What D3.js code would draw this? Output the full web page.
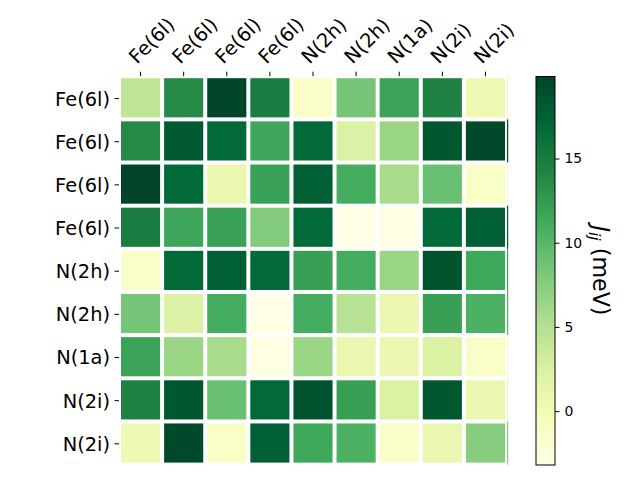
<!DOCTYPE html>
<html>
<head>
<meta charset="utf-8">
<script src="https://cdn.jsdelivr.net/npm/d3@7"></script>
<style>
  html, body { margin: 0; padding: 0; background: #fff; }
  svg { display: block; font-family: "DejaVu Sans", sans-serif; }
</style>
</head>
<body>
<svg id="chart" width="640" height="480"></svg>
<script>
// ---- data ----
const rowLabels = ["Fe(6l)", "Fe(6l)", "Fe(6l)", "Fe(6l)", "N(2h)", "N(2h)", "N(1a)", "N(2i)", "N(2i)"];
const colLabels = ["Fe(6l)", "Fe(6l)", "Fe(6l)", "Fe(6l)", "N(2h)", "N(2h)", "N(1a)", "N(2i)", "N(2i)"];
const row0 = [4.2, 13.7, 19.87, 14.9, -1.3, 8.5, 11.8, 14.4, 0.5];
const row1 = [13.7, 18.2, 16.8, 11.6, 16.8, 2.3, 6.5, 18.4, 19.5];
const row2 = [19.87, 16.8, 0.8, 11.9, 17.7, 11.0, 5.7, 9.1, -1.2];
const row3 = [14.9, 11.6, 11.9, 7.8, 16.8, -3.2, -3.0, 16.8, 17.7];
const row4 = [-1.3, 16.8, 17.7, 16.8, 12.2, 11.0, 6.5, 18.7, 11.4];
const row5 = [8.5, 2.3, 11.0, -3.2, 11.0, 4.7, 0.8, 12.1, 10.6];
const row6 = [11.8, 6.5, 5.7, -3.0, 6.5, 0.8, 0.7, 2.4, -1.3];
const row7 = [14.4, 18.4, 9.1, 16.8, 18.7, 12.1, 2.4, 18.4, 0.9];
const row8 = [0.5, 19.5, -1.2, 17.7, 11.4, 10.6, -1.3, 0.9, 7.4];
const matrix = [row0, row1, row2, row3, row4, row5, row6, row7, row8];
const cbarTicks = [0, 5, 10, 15];
const cbarLabel = "(meV)";

// ---- layout ----
const svg = d3.select("#chart");
const ax = {left: 119, right: 507, top: 76.2, bottom: 464.6};
const cb = {left: 536, right: 555, top: 76.5, bottom: 465};
const gap = 4;
const tickLen = 4.5;

// matplotlib YlGn
const ylgn = ["#ffffe5", "#f7fcb9", "#d9f0a3", "#addd8e", "#78c679", "#41ab5d", "#238443", "#006837", "#004529"];
const allVals = matrix.flat();
const [vmin, vmax] = d3.extent(allVals);
const color = d3.scaleLinear()
  .domain(ylgn.map((c, i) => vmin + (vmax - vmin) * i / (ylgn.length - 1)))
  .range(ylgn)
  .interpolate(d3.interpolateRgb);

const x = d3.scaleBand().domain(d3.range(colLabels.length)).range([ax.left, ax.right]).padding(0);
const y = d3.scaleBand().domain(d3.range(rowLabels.length)).range([ax.top, ax.bottom]).padding(0);

const cells = [];
matrix.forEach((row, i) => row.forEach((v, j) => cells.push({i, j, v})));

// edge sliver (imshow edge peeking past the grid)
svg.append("g").selectAll("rect")
  .data(matrix.map((row, i) => ({i, v: row[row.length - 1]})))
  .join("rect")
  .attr("x", ax.right)
  .attr("y", d => y(d.i))
  .attr("width", 1.2)
  .attr("height", y.bandwidth())
  .attr("fill", d => color(d.v));

svg.append("g").selectAll("rect")
  .data(cells)
  .join("rect")
  .attr("x", d => x(d.j) + gap / 2)
  .attr("y", d => y(d.i) + gap / 2)
  .attr("width", x.bandwidth() - gap)
  .attr("height", y.bandwidth() - gap)
  .attr("fill", d => color(d.v));

// top x ticks
const fs = 19.4;
const gx = svg.append("g");
colLabels.forEach((lab, j) => {
  const cx = x(j) + x.bandwidth() / 2;
  gx.append("line")
    .attr("x1", cx).attr("x2", cx)
    .attr("y1", ax.top).attr("y2", ax.top - tickLen)
    .attr("stroke", "#000").attr("stroke-width", 1);
  const bx = cx - 3.5, by = ax.top - tickLen - 7;
  gx.append("text")
    .attr("transform", `translate(${bx},${by}) rotate(-45)`)
    .attr("text-anchor", "start")
    .attr("font-size", fs)
    .attr("fill", "#000")
    .text(lab);
});

// left y ticks
const gy = svg.append("g");
rowLabels.forEach((lab, i) => {
  const cy = y(i) + y.bandwidth() / 2 + 0.8;
  gy.append("line")
    .attr("x1", ax.left).attr("x2", ax.left - tickLen)
    .attr("y1", cy).attr("y2", cy)
    .attr("stroke", "#000").attr("stroke-width", 1);
  gy.append("text")
    .attr("x", ax.left - tickLen - 4.5)
    .attr("y", cy)
    .attr("dy", "0.36em")
    .attr("text-anchor", "end")
    .attr("font-size", fs)
    .attr("fill", "#000")
    .text(lab);
});

// colorbar
const defs = svg.append("defs");
const grad = defs.append("linearGradient")
  .attr("id", "cbgrad")
  .attr("x1", "0").attr("y1", "1").attr("x2", "0").attr("y2", "0");
d3.range(0, 1.0001, 0.02).forEach(t => {
  grad.append("stop")
    .attr("offset", t)
    .attr("stop-color", color(vmin + t * (vmax - vmin)));
});
svg.append("rect")
  .attr("x", cb.left).attr("y", cb.top)
  .attr("width", cb.right - cb.left).attr("height", cb.bottom - cb.top)
  .attr("fill", "url(#cbgrad)")
  .attr("stroke", "#000").attr("stroke-width", 1);

const cy = d3.scaleLinear().domain([vmin, vmax]).range([cb.bottom, cb.top]);
const cbAxis = d3.axisRight(cy).tickValues(cbarTicks).tickSize(4.5).tickPadding(5).tickFormat(d3.format("d"));
const gcb = svg.append("g")
  .attr("transform", `translate(${cb.right},0)`)
  .call(cbAxis);
gcb.select(".domain").remove();
gcb.selectAll("text").attr("font-size", 13.9).attr("font-family", "DejaVu Sans, sans-serif").attr("fill", "#000");
gcb.selectAll("line").attr("stroke", "#000");

// colorbar label
const lab = svg.append("text")
  .attr("transform", `translate(593,270.5) rotate(90)`)
  .attr("text-anchor", "middle")
  .attr("font-size", 22.2)
  .attr("fill", "#000");
lab.append("tspan").attr("font-style", "italic").text("J");
lab.append("tspan").attr("font-style", "italic").attr("font-size", 15.5).attr("dy", 4).text("ij");
lab.append("tspan").attr("dy", -4).text(" " + cbarLabel);
</script>
</body>
</html>
